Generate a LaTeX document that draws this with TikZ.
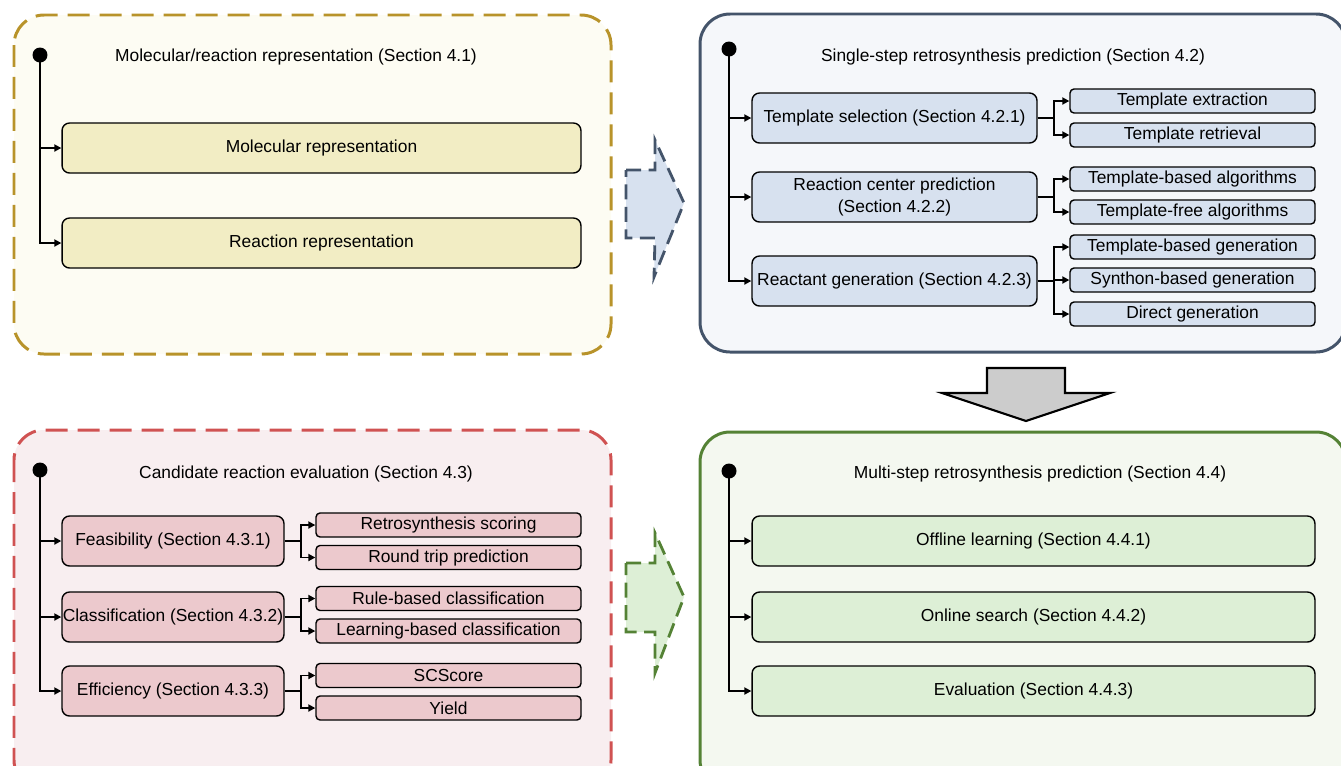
\documentclass[tikz,border=0pt]{standalone}
\usepackage{fontspec}
\setmainfont{Liberation Sans}
\usetikzlibrary{positioning,arrows.meta}
\tikzset{>={Triangle[length=4pt,width=4pt]}}

\definecolor{goldline}{HTML}{B8932A}
\definecolor{goldfill}{HTML}{FDFCF3}
\definecolor{goldbox}{HTML}{F2EDC4}
\definecolor{slateline}{HTML}{44546A}
\definecolor{slatefill}{HTML}{F5F7FA}
\definecolor{slatebox}{HTML}{D7E1EF}
\definecolor{redline}{HTML}{D05252}
\definecolor{redfill}{HTML}{F8EEF0}
\definecolor{redbox}{HTML}{ECC9CD}
\definecolor{greenline}{HTML}{548235}
\definecolor{greenfill}{HTML}{F4F8F0}
\definecolor{greenbox}{HTML}{DDEFD6}

\begin{document}
\begin{tikzpicture}[x=0.02cm,y=-0.02cm,
  every node/.style={font=\fontsize{9.9}{12}\selectfont},
  panel/.style={line width=1.7pt,rounded corners=0.6cm},
  dashpanel/.style={panel,dash pattern=on 0.44cm off 0.2cm},
  box/.style={draw,line width=0.8pt,rounded corners=0.15cm,align=center,inner sep=0pt},
  bigbox/.style={box,minimum height=1cm},
  leaf/.style={box,rounded corners=0.08cm,minimum height=0.48cm},
  tree/.style={line width=1.1pt}]
\useasboundingbox (0,0) rectangle (1341,765);

% Panels
\draw[dashpanel,draw=goldline,fill=goldfill] (14,15) rectangle (611,354);
\draw[panel,draw=slateline,fill=slatefill] (700,14) rectangle (1346,352);
\draw[dashpanel,draw=redline,fill=redfill] (14,430) rectangle (611,790);
\draw[panel,draw=greenline,fill=greenfill] (700,432) rectangle (1346,790);

% Block arrows between panels
\draw[fill=slatebox,draw=slateline,line width=1.6pt,dash pattern=on 0.3cm off 0.15cm]
  (626,170) -- (655,170) -- (655,140) -- (684,203) -- (654,277) -- (655,238) -- (626,238) -- cycle;
\draw[fill=greenbox,draw=greenline,line width=1.6pt,dash pattern=on 0.3cm off 0.15cm]
  (626,563) -- (655,563) -- (655,533) -- (684,597) -- (655,673) -- (655,632) -- (626,632) -- cycle;
\draw[fill=black!20,line width=1.2pt]
  (987,368) -- (1065,368) -- (1065,393) -- (1110,393) -- (1026,421) -- (942,393) -- (987,393) -- cycle;

% Section 4.1
\coordinate (dotA) at (40,55);
\node (titleA) at (296,57) {Molecular/reaction representation (Section 4.1)};
\node[bigbox,fill=goldbox,minimum width=10.38cm] (molrep) at (321.5,148) {Molecular representation};
\node[bigbox,fill=goldbox,minimum width=10.38cm] (reacrep) at (321.5,243) {Reaction representation};
\fill (dotA) circle (0.15cm);
\draw[->,tree] (dotA) |- (molrep.west);
\draw[->,tree] (dotA) |- (reacrep.west);

% Section 4.2
\coordinate (dotB) at (729,49);
\node (titleB) at (1013,57) {Single-step retrosynthesis prediction (Section 4.2)};
\node[bigbox,fill=slatebox,minimum width=5.7cm] (tsel) at (894.5,118) {Template selection (Section 4.2.1)};
\node[bigbox,fill=slatebox,minimum width=5.7cm] (rcp) at (894.5,197) {Reaction center prediction\\(Section 4.2.2)};
\node[bigbox,fill=slatebox,minimum width=5.7cm] (rgen) at (894.5,281) {Reactant generation (Section 4.2.3)};
\node[leaf,fill=slatebox,minimum width=4.9cm] (text) at (1192.5,101) {Template extraction};
\node[leaf,fill=slatebox,minimum width=4.9cm] (tret) at (1192.5,135) {Template retrieval};
\node[leaf,fill=slatebox,minimum width=4.9cm] (tbalg) at (1192.5,179) {Template-based algorithms};
\node[leaf,fill=slatebox,minimum width=4.9cm] (tfalg) at (1192.5,212) {Template-free algorithms};
\node[leaf,fill=slatebox,minimum width=4.9cm] (tbgen) at (1192.5,247) {Template-based generation};
\node[leaf,fill=slatebox,minimum width=4.9cm] (sbgen) at (1192.5,280) {Synthon-based generation};
\node[leaf,fill=slatebox,minimum width=4.9cm] (dgen) at (1192.5,314) {Direct generation};
\fill (dotB) circle (0.15cm);
\foreach \m in {tsel,rcp,rgen}
  \draw[->,tree] (dotB) |- (\m.west);
\foreach \l in {text,tret}
  \draw[->,tree] (tsel.east) -- ++(16,0) |- (\l.west);
\foreach \l in {tbalg,tfalg}
  \draw[->,tree] (rcp.east) -- ++(16,0) |- (\l.west);
\foreach \l in {tbgen,sbgen,dgen}
  \draw[->,tree] (rgen.east) -- ++(16,0) |- (\l.west);

% Section 4.3
\coordinate (dotC) at (40,470);
\node (titleC) at (306,474) {Candidate reaction evaluation (Section 4.3)};
\node[bigbox,fill=redbox,minimum width=4.44cm] (feas) at (173,541) {Feasibility (Section 4.3.1)};
\node[bigbox,fill=redbox,minimum width=4.44cm] (clas) at (173,617) {Classification (Section 4.3.2)};
\node[bigbox,fill=redbox,minimum width=4.44cm] (effi) at (173,691) {Efficiency (Section 4.3.3)};
\node[leaf,fill=redbox,minimum width=5.3cm] (rscore) at (448.5,525) {Retrosynthesis scoring};
\node[leaf,fill=redbox,minimum width=5.3cm] (rtrip) at (448.5,557.5) {Round trip prediction};
\node[leaf,fill=redbox,minimum width=5.3cm] (rbcls) at (448.5,598.5) {Rule-based classification};
\node[leaf,fill=redbox,minimum width=5.3cm] (lbcls) at (448.5,631) {Learning-based classification};
\node[leaf,fill=redbox,minimum width=5.3cm] (scs) at (448.5,675.5) {SCScore};
\node[leaf,fill=redbox,minimum width=5.3cm] (yld) at (448.5,708) {Yield};
\fill (dotC) circle (0.15cm);
\foreach \m in {feas,clas,effi}
  \draw[->,tree] (dotC) |- (\m.west);
\foreach \l in {rscore,rtrip}
  \draw[->,tree] (feas.east) -- ++(16,0) |- (\l.west);
\foreach \l in {rbcls,lbcls}
  \draw[->,tree] (clas.east) -- ++(16,0) |- (\l.west);
\foreach \l in {scs,yld}
  \draw[->,tree] (effi.east) -- ++(16,0) |- (\l.west);

% Section 4.4
\coordinate (dotD) at (729,471);
\node (titleD) at (1040,474) {Multi-step retrosynthesis prediction (Section 4.4)};
\node[bigbox,fill=greenbox,minimum width=11.26cm] (offl) at (1033.5,541) {Offline learning (Section 4.4.1)};
\node[bigbox,fill=greenbox,minimum width=11.26cm] (onls) at (1033.5,617) {Online search (Section 4.4.2)};
\node[bigbox,fill=greenbox,minimum width=11.26cm] (eval) at (1033.5,691) {Evaluation (Section 4.4.3)};
\fill (dotD) circle (0.15cm);
\foreach \m in {offl,onls,eval}
  \draw[->,tree] (dotD) |- (\m.west);

\end{tikzpicture}
\end{document}
